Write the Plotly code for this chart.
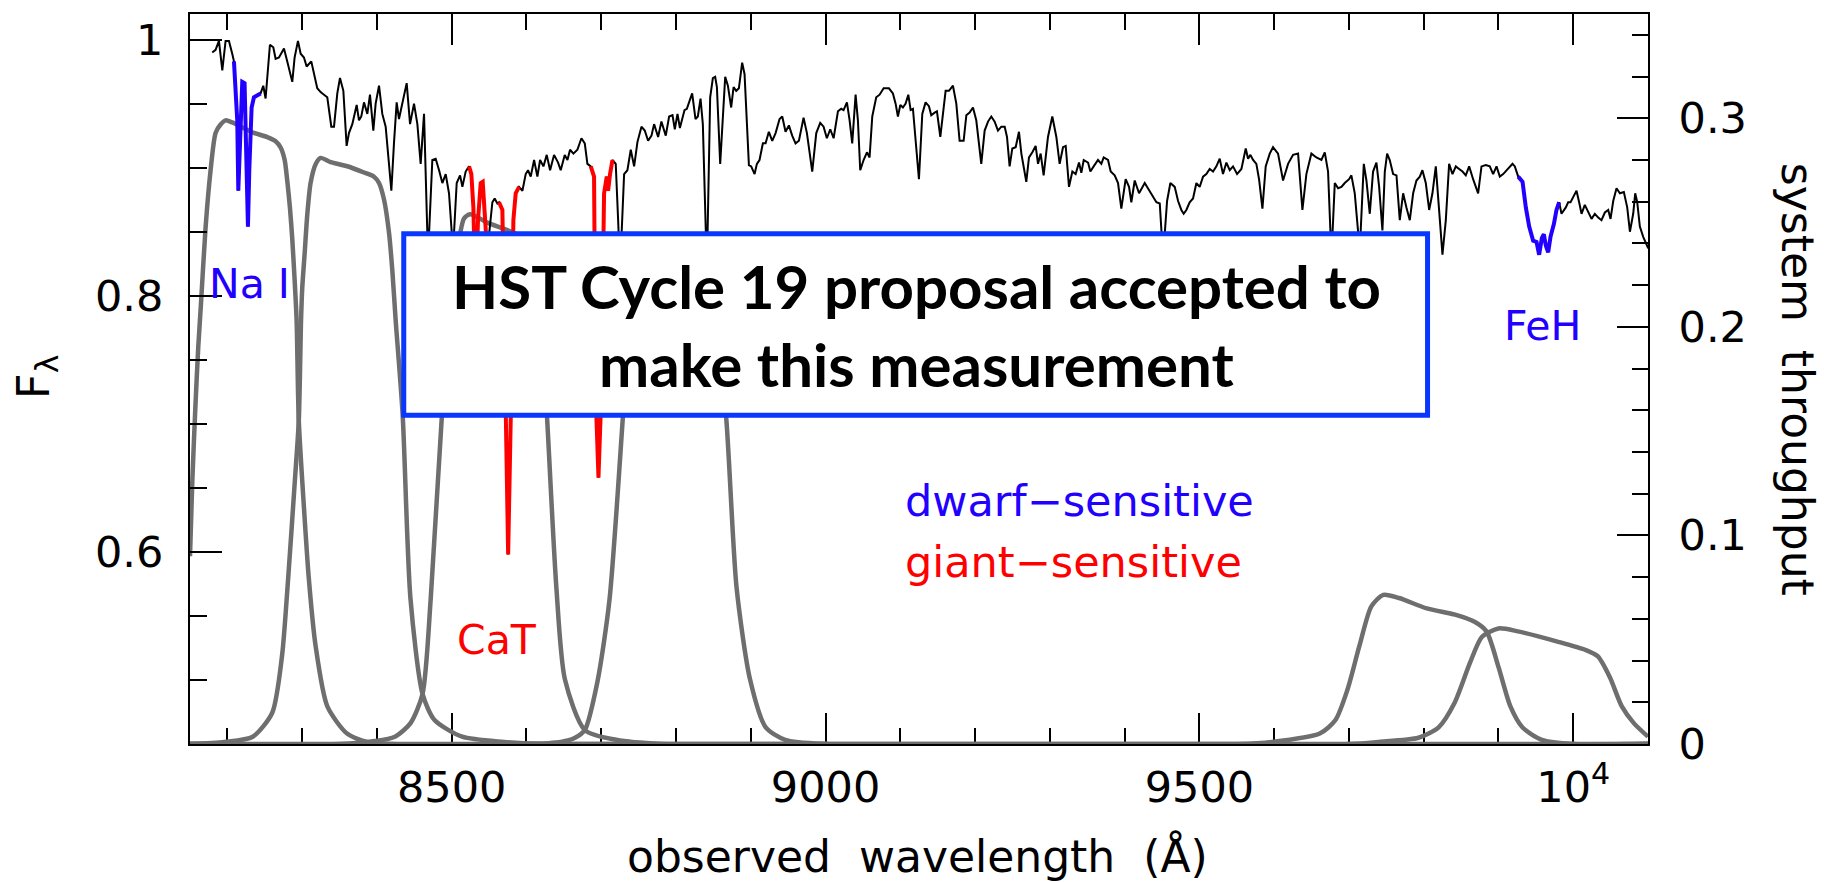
import plotly.graph_objects as go
import numpy as np

# ---------------- spectrum (observed wavelength in Angstrom, normalised flux) ----------------
wavelength = [
    8179.8, 8184.2, 8188.7, 8193.2, 8197.6, 8202.1, 8206.5, 8208.8, 8213.2, 8214.6,
    8216.8, 8219.9, 8223.0, 8225.7, 8227.5, 8229.3, 8232.4, 8235.5, 8240.0, 8244.4,
    8248.0, 8251.1, 8256.9, 8261.4, 8264.5, 8269.0, 8275.7, 8280.1, 8286.8, 8289.9,
    8294.4, 8298.0, 8302.4, 8306.0, 8312.2, 8320.2, 8324.7, 8329.2, 8333.6, 8339.0,
    8342.6, 8347.0, 8350.6, 8355.1, 8359.5, 8362.6, 8367.1, 8372.9, 8376.0, 8379.1,
    8382.7, 8387.2, 8390.7, 8395.2, 8398.3, 8402.8, 8407.2, 8411.7, 8416.2, 8419.3,
    8422.8, 8426.4, 8429.5, 8434.0, 8439.8, 8444.3, 8449.6, 8454.1, 8458.5, 8463.0,
    8465.7, 8468.3, 8474.1, 8478.6, 8483.1, 8487.5, 8492.0, 8496.4, 8501.8, 8506.7,
    8511.2, 8514.3, 8518.7, 8523.2, 8526.3, 8529.0, 8531.7, 8535.2, 8538.8, 8541.5,
    8544.2, 8546.8, 8550.0, 8554.4, 8557.5, 8561.1, 8563.3, 8567.8, 8572.0, 8575.5,
    8579.5, 8582.5, 8585.6, 8590.1, 8594.6, 8599.0, 8602.1, 8605.7, 8610.2, 8614.6,
    8618.2, 8622.7, 8627.1, 8631.6, 8636.9, 8642.3, 8645.8, 8651.2, 8654.8, 8658.3,
    8662.8, 8668.1, 8673.5, 8678.0, 8681.5, 8686.0, 8690.4, 8692.7, 8696.3, 8700.0,
    8703.8, 8707.4, 8709.2, 8711.8, 8715.0, 8719.4, 8722.6, 8725.2, 8730.6, 8735.0,
    8739.5, 8744.0, 8748.4, 8753.8, 8758.2, 8762.7, 8767.2, 8770.7, 8776.1, 8780.5,
    8786.3, 8790.8, 8795.3, 8798.4, 8802.0, 8805.2, 8811.4, 8814.5, 8821.6, 8826.1,
    8829.2, 8832.8, 8835.9, 8841.3, 8845.7, 8849.3, 8852.4, 8854.7, 8859.1, 8862.7,
    8865.8, 8869.4, 8873.8, 8877.0, 8880.5, 8884.1, 8888.5, 8891.7, 8897.5, 8900.6,
    8905.1, 8908.2, 8911.7, 8916.2, 8919.8, 8924.2, 8928.7, 8933.2, 8938.5, 8942.1,
    8946.5, 8951.0, 8955.4, 8959.9, 8964.4, 8970.6, 8975.1, 8982.2, 8987.6, 8992.9,
    8997.4, 9001.8, 9006.3, 9010.8, 9016.6, 9021.0, 9024.1, 9028.6, 9032.2, 9035.7,
    9040.2, 9043.3, 9046.4, 9050.9, 9055.4, 9058.9, 9062.5, 9067.8, 9072.3, 9077.7,
    9084.8, 9090.1, 9093.7, 9096.8, 9100.0, 9103.5, 9107.1, 9110.7, 9113.8, 9116.9,
    9124.9, 9129.4, 9133.8, 9138.3, 9141.4, 9145.9, 9149.0, 9153.5, 9157.0, 9160.6,
    9165.1, 9170.4, 9174.9, 9179.3, 9184.7, 9188.3, 9192.7, 9197.2, 9201.6, 9208.3,
    9212.8, 9217.3, 9221.7, 9226.2, 9230.6, 9235.1, 9239.6, 9242.7, 9246.2, 9249.8,
    9254.3, 9258.7, 9261.9, 9268.5, 9272.1, 9276.6, 9281.0, 9284.2, 9287.7, 9291.7,
    9297.5, 9303.3, 9308.7, 9313.1, 9317.6, 9321.2, 9325.6, 9330.1, 9334.5, 9339.0,
    9342.1, 9345.3, 9351.1, 9354.2, 9358.6, 9364.4, 9368.9, 9372.0, 9377.8, 9381.4,
    9386.7, 9391.2, 9395.6, 9401.4, 9405.9, 9409.0, 9413.5, 9419.3, 9426.9, 9433.6,
    9442.5, 9447.0, 9451.4, 9456.8, 9461.2, 9467.0, 9471.5, 9475.9, 9479.0, 9482.6,
    9487.0, 9491.5, 9496.0, 9500.4, 9504.9, 9509.3, 9513.8, 9518.3, 9522.7, 9527.2,
    9531.6, 9536.1, 9540.6, 9545.0, 9550.4, 9556.2, 9562.0, 9565.1, 9568.2, 9571.8,
    9576.2, 9579.8, 9584.3, 9588.7, 9594.1, 9598.5, 9605.2, 9611.9, 9618.6, 9625.3,
    9632.0, 9637.8, 9643.1, 9649.8, 9656.5, 9663.2, 9667.7, 9672.1, 9676.6, 9681.1,
    9685.5, 9690.0, 9694.4, 9700.2, 9703.3, 9707.8, 9714.5, 9719.9, 9723.4, 9727.9,
    9732.3, 9736.8, 9740.4, 9744.8, 9748.0, 9751.1, 9754.6, 9759.1, 9763.6, 9768.0,
    9772.5, 9776.9, 9781.4, 9785.9, 9790.3, 9794.8, 9798.3, 9802.8, 9807.3, 9811.7,
    9816.2, 9820.6, 9825.1, 9829.6, 9834.0, 9838.5, 9843.0, 9847.4, 9851.9, 9856.3,
    9860.8, 9866.1, 9872.8, 9877.3, 9883.1, 9888.4, 9892.9, 9897.4, 9901.8, 9906.3,
    9910.7, 9915.2, 9918.8, 9921.9, 9926.4, 9932.2, 9936.6, 9941.1, 9946.4, 9950.9,
    9954.4, 9958.0, 9960.7, 9963.4, 9966.5, 9969.6, 9974.1, 9977.6, 9981.2, 9984.3,
    9990.1, 9993.2, 9996.4, 10000.8, 10004.4, 10007.9, 10011.1, 10015.5, 10020.0, 10024.5,
    10028.9, 10033.4, 10037.8, 10042.3, 10046.8, 10049.9, 10053.5, 10057.9, 10062.4, 10067.7,
    10072.2, 10075.8, 10080.2, 10082.9, 10085.6, 10089.1, 10093.6, 10100.3,
]
flux = [
    0.990, 0.992, 0.999, 0.976, 0.999, 0.999, 0.989, 0.983, 0.937, 0.882,
    0.911, 0.967, 0.966, 0.911, 0.854, 0.898, 0.947, 0.955, 0.957, 0.958,
    0.964, 0.954, 0.996, 0.994, 0.985, 0.986, 0.993, 0.983, 0.967, 0.986,
    0.999, 0.989, 0.986, 0.979, 0.983, 0.962, 0.959, 0.957, 0.955, 0.932,
    0.932, 0.958, 0.970, 0.960, 0.917, 0.927, 0.934, 0.949, 0.937, 0.940,
    0.951, 0.942, 0.957, 0.929, 0.950, 0.964, 0.942, 0.932, 0.903, 0.882,
    0.919, 0.951, 0.938, 0.950, 0.966, 0.934, 0.950, 0.934, 0.903, 0.942,
    0.888, 0.830, 0.906, 0.907, 0.898, 0.888, 0.895, 0.880, 0.835, 0.888,
    0.894, 0.885, 0.897, 0.901, 0.895, 0.869, 0.800, 0.859, 0.888, 0.889,
    0.869, 0.840, 0.848, 0.873, 0.876, 0.872, 0.873, 0.867, 0.720, 0.598,
    0.720, 0.859, 0.880, 0.885, 0.882, 0.895, 0.898, 0.893, 0.906, 0.893,
    0.906, 0.901, 0.910, 0.898, 0.910, 0.904, 0.898, 0.910, 0.906, 0.914,
    0.911, 0.914, 0.923, 0.919, 0.903, 0.901, 0.893, 0.720, 0.658, 0.720,
    0.880, 0.893, 0.882, 0.895, 0.906, 0.903, 0.859, 0.820, 0.895, 0.898,
    0.914, 0.901, 0.920, 0.932, 0.929, 0.921, 0.925, 0.934, 0.924, 0.936,
    0.925, 0.940, 0.941, 0.930, 0.942, 0.931, 0.945, 0.946, 0.958, 0.938,
    0.940, 0.954, 0.934, 0.820, 0.955, 0.970, 0.971, 0.963, 0.903, 0.937,
    0.971, 0.964, 0.947, 0.963, 0.960, 0.962, 0.982, 0.973, 0.902, 0.901,
    0.895, 0.903, 0.906, 0.919, 0.919, 0.928, 0.921, 0.927, 0.938, 0.940,
    0.928, 0.933, 0.925, 0.919, 0.921, 0.939, 0.927, 0.897, 0.927, 0.935,
    0.932, 0.923, 0.930, 0.923, 0.944, 0.946, 0.945, 0.951, 0.937, 0.919,
    0.957, 0.937, 0.898, 0.906, 0.912, 0.908, 0.940, 0.955, 0.957, 0.962,
    0.962, 0.958, 0.950, 0.940, 0.949, 0.947, 0.950, 0.957, 0.945, 0.946,
    0.891, 0.942, 0.951, 0.948, 0.941, 0.943, 0.944, 0.924, 0.941, 0.960,
    0.960, 0.964, 0.950, 0.921, 0.921, 0.941, 0.943, 0.947, 0.937, 0.903,
    0.929, 0.936, 0.940, 0.936, 0.929, 0.932, 0.932, 0.924, 0.901, 0.915,
    0.916, 0.928, 0.911, 0.889, 0.908, 0.912, 0.917, 0.903, 0.911, 0.894,
    0.924, 0.940, 0.924, 0.903, 0.916, 0.917, 0.885, 0.897, 0.895, 0.904,
    0.896, 0.906, 0.904, 0.897, 0.901, 0.906, 0.903, 0.908, 0.906, 0.897,
    0.894, 0.888, 0.868, 0.891, 0.885, 0.873, 0.890, 0.880, 0.888, 0.882,
    0.873, 0.872, 0.830, 0.874, 0.888, 0.885, 0.874, 0.867, 0.864, 0.867,
    0.873, 0.876, 0.888, 0.885, 0.893, 0.895, 0.899, 0.897, 0.901, 0.907,
    0.895, 0.904, 0.898, 0.901, 0.895, 0.899, 0.915, 0.907, 0.910, 0.906,
    0.903, 0.891, 0.868, 0.901, 0.911, 0.916, 0.911, 0.890, 0.903, 0.910,
    0.911, 0.867, 0.895, 0.911, 0.908, 0.906, 0.912, 0.897, 0.830, 0.888,
    0.884, 0.885, 0.888, 0.891, 0.894, 0.880, 0.835, 0.903, 0.890, 0.864,
    0.897, 0.904, 0.885, 0.851, 0.897, 0.911, 0.906, 0.895, 0.894, 0.859,
    0.880, 0.869, 0.859, 0.880, 0.890, 0.893, 0.898, 0.888, 0.867, 0.880,
    0.901, 0.867, 0.832, 0.859, 0.903, 0.895, 0.901, 0.899, 0.897, 0.894,
    0.901, 0.891, 0.880, 0.901, 0.902, 0.901, 0.895, 0.901, 0.893, 0.895,
    0.898, 0.901, 0.903, 0.901, 0.893, 0.889, 0.869, 0.854, 0.843, 0.842,
    0.832, 0.845, 0.848, 0.839, 0.834, 0.846, 0.856, 0.867, 0.873, 0.864,
    0.869, 0.873, 0.873, 0.878, 0.882, 0.873, 0.864, 0.871, 0.865, 0.860,
    0.864, 0.861, 0.859, 0.865, 0.867, 0.860, 0.874, 0.884, 0.880, 0.881,
    0.869, 0.850, 0.864, 0.880, 0.873, 0.854, 0.846, 0.837,
]

# wavelength windows of the index features
dwarf_windows = [(8208.0, 8245.0), (9926.0, 9982.0)]                    # Na I, FeH
giant_windows = [(8523.0, 8547.0), (8563.0, 8591.0), (8686.0, 8716.0)]  # Ca triplet

# ---------------- filter system throughput curves ----------------
filt1_wave = [8150, 8153, 8157, 8161, 8164.5, 8170.9, 8177.5, 8184.2, 8190.9, 8197.6,
              8206.5, 8217.7, 8235.5, 8253.4, 8264.5, 8271.2, 8276.6, 8280.1, 8283.7, 8286.8,
              8290.0, 8292.6, 8295.5, 8303.0, 8309.0, 8318.0, 8333.7, 8360.0, 8387.0, 8420.0,
              10100]
filt1_thru = [0.090, 0.125, 0.160, 0.190, 0.210, 0.248, 0.275, 0.293, 0.297, 0.299,
              0.298, 0.296, 0.293, 0.291, 0.289, 0.286, 0.280, 0.270, 0.257, 0.242,
              0.222, 0.203, 0.155, 0.110, 0.079, 0.047, 0.018, 0.005, 0.001, 0.0,
              0.0]

filt2_wave = [8150, 8196, 8234, 8260, 8273, 8281, 8290, 8295.5, 8298.5, 8300.2,
              8303.3, 8306.9, 8311.3, 8318.0, 8324.7, 8338.0, 8360.4, 8382.7, 8396.1, 8402.8,
              8409.5, 8416.2, 8420.6, 8425.1, 8434.4, 8444.8, 8461.0, 8477.0, 8514.0, 8570.0,
              8620.0, 10100]
filt2_thru = [0.0, 0.001, 0.0035, 0.015, 0.042, 0.078, 0.125, 0.155, 0.203, 0.219,
              0.235, 0.254, 0.269, 0.278, 0.281, 0.279, 0.277, 0.274, 0.272, 0.269,
              0.261, 0.245, 0.227, 0.203, 0.158, 0.070, 0.024, 0.0115, 0.0035, 0.001,
              0.0, 0.0]

filt3_wave = [8150, 8350, 8397, 8424, 8445, 8461, 8472, 8487, 8500, 8509,
              8516.5, 8524.5, 8547.7, 8570, 8583.4, 8600, 8610, 8618, 8627.5, 8640,
              8651.4, 8678, 8720, 8780, 10100]
filt3_thru = [0.0, 0.0, 0.0014, 0.0035, 0.010, 0.024, 0.070, 0.158, 0.215, 0.240,
              0.252, 0.254, 0.250, 0.247, 0.245, 0.242, 0.236, 0.215, 0.157, 0.075,
              0.031, 0.0067, 0.002, 0.0, 0.0]

filt4_wave = [8150, 8600, 8646, 8665, 8678, 8695, 8711, 8729, 8738, 8750,
              8770, 8800, 8840, 8852, 8867, 8881, 8899, 8920, 8946, 9000,
              10100]
filt4_thru = [0.0, 0.0, 0.001, 0.003, 0.0067, 0.030, 0.069, 0.157, 0.205, 0.228,
              0.232, 0.229, 0.222, 0.205, 0.157, 0.075, 0.031, 0.008, 0.002, 0.0,
              0.0]

filt5_wave = [8150, 9550, 9597, 9661, 9682, 9698, 9714, 9730, 9746, 9767,
              9804, 9842, 9868, 9884, 9900, 9916, 9932, 9958, 10001, 10100]
filt5_thru = [0.0, 0.0, 0.001, 0.005, 0.0115, 0.026, 0.047, 0.066, 0.0715, 0.070,
              0.065, 0.062, 0.0586, 0.054, 0.037, 0.018, 0.008, 0.002, 0.0, 0.0]

filt6_wave = [8150, 9700, 9740, 9793, 9820, 9841, 9862, 9878, 9900, 9926,
              9980, 10017, 10033, 10049, 10065, 10081, 10100]
filt6_thru = [0.0, 0.0, 0.001, 0.003, 0.008, 0.0195, 0.039, 0.0514, 0.0554, 0.054,
              0.049, 0.045, 0.042, 0.032, 0.018, 0.010, 0.0035]

filters = [
    (filt1_wave, filt1_thru), (filt2_wave, filt2_thru), (filt3_wave, filt3_thru),
    (filt4_wave, filt4_thru), (filt5_wave, filt5_thru), (filt6_wave, filt6_thru),
]

# ---------------- axis settings ----------------
x_range = [8150, 10100]
flux_range = [0.45, 1.02]
thru_range = [0.0, 0.35]
x_major = [8500, 9000, 9500, 10000]
x_major_text = ["8500", "9000", "9500", "10<sup>4</sup>"]
flux_major = [0.6, 0.8, 1.0]
flux_major_text = ["0.6", "0.8", "1"]
thru_major = [0.0, 0.1, 0.2, 0.3]
thru_major_text = ["0", "0.1", "0.2", "0.3"]

BLUE = "#2200ff"
RED = "#ff0000"
GRAY = "#6e6e6e"
FAMILY = "DejaVu Sans"
TICK_FONT = dict(family=FAMILY, size=43, color="black")

wl = np.array(wavelength)
fx = np.array(flux)

fig = go.Figure()

# filter curves on the throughput axis (drawn first, underneath the spectrum)
for fw, ft in filters:
    fig.add_trace(go.Scatter(
        x=fw, y=ft, mode="lines", yaxis="y",
        line=dict(color=GRAY, width=4.5, shape="spline", smoothing=0.7),
        hoverinfo="skip", showlegend=False,
    ))

# full spectrum
fig.add_trace(go.Scatter(
    x=wavelength, y=flux, mode="lines", yaxis="y2",
    line=dict(color="black", width=2),
    showlegend=False,
))

# highlighted features
for windows, color in ((dwarf_windows, BLUE), (giant_windows, RED)):
    for lo, hi in windows:
        sel = (wl >= lo) & (wl <= hi)
        fig.add_trace(go.Scatter(
            x=wl[sel], y=fx[sel], mode="lines", yaxis="y2",
            line=dict(color=color, width=4),
            showlegend=False,
        ))

axis_common = dict(
    showgrid=False, zeroline=False, showline=True, linecolor="black", linewidth=2,
    ticks="inside", tickcolor="black", tickwidth=2,
)

fig.update_layout(
    width=1824, height=883, autosize=False,
    margin=dict(l=190, r=176, t=14, b=139),
    paper_bgcolor="white", plot_bgcolor="white",
    showlegend=False,
    xaxis=dict(
        **axis_common, range=x_range, mirror="ticks", layer="below traces",
        tickmode="array", tickvals=x_major, ticktext=x_major_text, ticklen=31,
        minor=dict(tickmode="array", tickvals=list(range(8200, 10100, 100)),
                   ticks="inside", ticklen=16, tickwidth=2, tickcolor="black"),
        tickfont=TICK_FONT, ticklabelstandoff=4,
    ),
    yaxis=dict(
        **axis_common, range=thru_range, side="right",
        tickmode="array", tickvals=thru_major, ticktext=thru_major_text, ticklen=31,
        minor=dict(tickmode="array",
                   tickvals=[0.02, 0.04, 0.06, 0.08, 0.12, 0.14, 0.16, 0.18,
                             0.22, 0.24, 0.26, 0.28, 0.32, 0.34],
                   ticks="inside", ticklen=16, tickwidth=2, tickcolor="black"),
        tickfont=TICK_FONT, ticklabelstandoff=20,
    ),
    yaxis2=dict(
        **axis_common, range=flux_range, side="left", overlaying="y",
        tickmode="array", tickvals=flux_major, ticktext=flux_major_text, ticklen=32,
        minor=dict(tickmode="array",
                   tickvals=[0.5, 0.55, 0.65, 0.7, 0.75, 0.85, 0.9, 0.95],
                   ticks="inside", ticklen=17, tickwidth=2, tickcolor="black"),
        tickfont=TICK_FONT, ticklabelstandoff=16,
    ),
)

# axis titles
title_font = dict(family=FAMILY, size=44, color="black")
fig.add_annotation(text="observed\u00a0 wavelength\u00a0 (Å)", xref="paper", yref="paper",
                   x=0.4993, y=-0.153, xanchor="center", yanchor="middle",
                   showarrow=False, font=title_font)
fig.add_annotation(text="F<sub>λ</sub>", xref="paper", yref="paper",
                   x=-0.106, y=0.503, xanchor="center", yanchor="middle", textangle=-90,
                   showarrow=False, font=dict(family=FAMILY, size=45, color="black"))
fig.add_annotation(text="system\u00a0 throughput", xref="paper", yref="paper",
                   x=1.103, y=0.5, xanchor="center", yanchor="middle", textangle=90,
                   showarrow=False, font=title_font)

# feature labels
fig.add_annotation(text="Na I", x=8229, y=0.809, xref="x", yref="y2", showarrow=False,
                   xanchor="center", yanchor="middle",
                   font=dict(family=FAMILY, size=41, color=BLUE))
fig.add_annotation(text="CaT", x=8560, y=0.531, xref="x", yref="y2", showarrow=False,
                   xanchor="center", yanchor="middle",
                   font=dict(family=FAMILY, size=41, color=RED))
fig.add_annotation(text="FeH", x=9959, y=0.776, xref="x", yref="y2", showarrow=False,
                   xanchor="center", yanchor="middle",
                   font=dict(family=FAMILY, size=41, color=BLUE))
fig.add_annotation(text="dwarf\u2212sensitive", x=9104, y=0.640, xref="x", yref="y2",
                   showarrow=False, xanchor="left", yanchor="middle",
                   font=dict(family=FAMILY, size=43, color=BLUE))
fig.add_annotation(text="giant\u2212sensitive", x=9104, y=0.592, xref="x", yref="y2",
                   showarrow=False, xanchor="left", yanchor="middle",
                   font=dict(family=FAMILY, size=43, color=RED))

# boxed note
fig.add_shape(type="rect", xref="paper", yref="paper",
              x0=0.1466, x1=0.8488, y0=0.4503, y1=0.6989,
              line=dict(color="#0a37ff", width=5), fillcolor="white", layer="above")
box_font = dict(family="Lato", size=60, color="black", weight="bold")
fig.add_annotation(text="HST Cycle 19 proposal accepted to", xref="paper", yref="paper",
                   x=0.4983, y=0.627, xanchor="center", yanchor="middle",
                   showarrow=False, font=box_font)
fig.add_annotation(text="make this measurement", xref="paper", yref="paper",
                   x=0.4983, y=0.5207, xanchor="center", yanchor="middle",
                   showarrow=False, font=box_font)

fig.write_html("out.html")
